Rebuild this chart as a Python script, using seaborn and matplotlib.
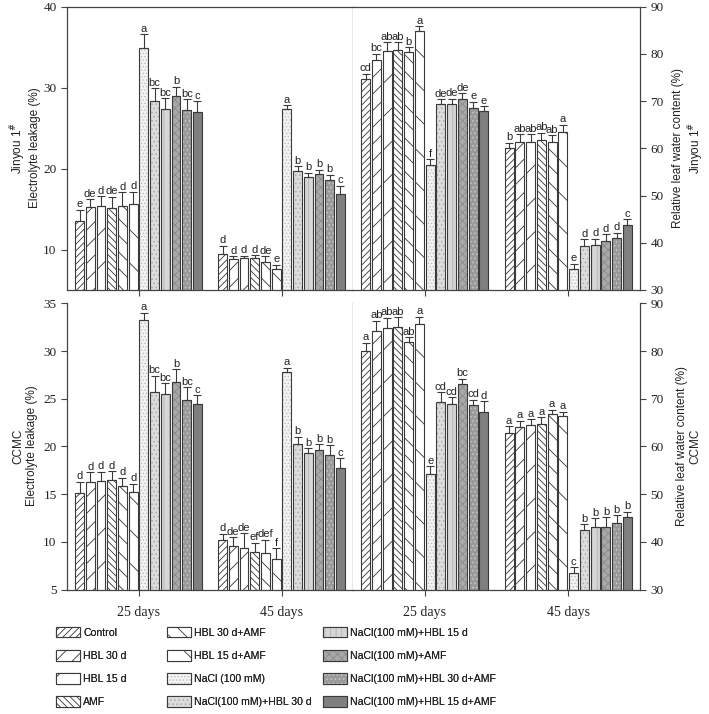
import numpy as np
import pandas as pd
import matplotlib
matplotlib.use("Agg")
import matplotlib.pyplot as plt
from matplotlib.patches import Patch, Rectangle
from matplotlib.container import BarContainer
import seaborn as sns

treatments = ["Control", "HBL 30 d", "HBL 15 d", "AMF", "HBL 30 d+AMF", "HBL 15 d+AMF",
              "NaCl (100 mM)", "NaCl(100 mM)+HBL 30 d", "NaCl(100 mM)+HBL 15 d",
              "NaCl(100 mM)+AMF", "NaCl(100 mM)+HBL 30 d+AMF", "NaCl(100 mM)+HBL 15 d+AMF"]
days = ["25 days", "45 days"]

# electrolyte leakage (%), Jinyou 1#
el_jin_25 = [13.5, 15.3, 15.4, 15.1, 15.4, 15.6, 34.9, 28.3, 27.4, 29.0, 27.2, 27.0]
el_jin_25_err = [1.4, 0.9, 1.2, 1.4, 1.7, 1.55, 1.7, 1.65, 1.3, 1.1, 1.35, 1.3]
el_jin_25_sig = ["e", "de", "d", "de", "d", "d", "a", "bc", "bc", "b", "bc", "c"]
el_jin_45 = [9.45, 8.8, 8.95, 9.0, 8.4, 7.6, 27.3, 19.7, 18.9, 19.3, 18.6, 16.8]
el_jin_45_err = [1.0, 0.4, 0.3, 0.3, 0.8, 0.5, 0.5, 0.6, 0.6, 0.55, 0.65, 1.1]
el_jin_45_sig = ["d", "d", "d", "d", "de", "e", "a", "b", "b", "b", "b", "c"]

# relative leaf water content (%), Jinyou 1#
rwc_jin_25 = [74.7, 78.7, 80.6, 80.9, 80.35, 84.8, 56.5, 69.4, 69.4, 70.35, 68.6, 68.0]
rwc_jin_25_err = [1.1, 1.35, 1.9, 1.6, 1.1, 1.05, 1.2, 1.05, 1.1, 1.35, 1.3, 0.9]
rwc_jin_25_sig = ["cd", "bc", "ab", "ab", "b", "a", "f", "de", "de", "de", "e", "e"]
rwc_jin_45 = [60.0, 61.4, 61.4, 61.8, 61.4, 63.5, 34.4, 39.4, 39.5, 40.3, 41.05, 43.7]
rwc_jin_45_err = [1.2, 1.55, 1.55, 1.55, 1.35, 1.55, 1.2, 1.4, 1.4, 1.5, 1.1, 1.3]
rwc_jin_45_sig = ["b", "ab", "ab", "ab", "ab", "a", "e", "d", "d", "d", "d", "c"]

# electrolyte leakage (%), CCMC
el_ccmc_25 = [15.1, 16.3, 16.35, 16.5, 15.9, 15.2, 33.2, 25.7, 25.45, 26.8, 24.85, 24.4]
el_ccmc_25_err = [1.2, 1.0, 1.0, 0.9, 0.8, 0.9, 0.8, 1.7, 1.2, 1.3, 1.35, 0.95]
el_ccmc_25_sig = ["d", "d", "d", "d", "d", "d", "a", "bc", "bc", "b", "bc", "c"]
el_ccmc_45 = [10.15, 9.6, 9.4, 8.9, 8.8, 8.2, 27.8, 20.3, 19.3, 19.6, 19.1, 17.75]
el_ccmc_45_err = [0.7, 0.9, 1.5, 1.0, 1.4, 1.1, 0.45, 0.7, 0.5, 0.6, 1.05, 1.0]
el_ccmc_45_sig = ["d", "de", "de", "ef", "def", "f", "a", "b", "b", "b", "b", "c"]

# relative leaf water content (%), CCMC
rwc_ccmc_25 = [80.0, 84.2, 84.9, 84.95, 81.85, 85.6, 54.3, 69.4, 68.95, 73.0, 68.6, 67.2]
rwc_ccmc_25_err = [1.7, 2.15, 2.1, 2.1, 1.1, 1.55, 1.6, 1.95, 1.4, 1.2, 1.2, 2.3]
rwc_ccmc_25_sig = ["a", "ab", "ab", "ab", "ab", "a", "e", "cd", "cd", "bc", "cd", "d"]
rwc_ccmc_45 = [62.8, 64.1, 64.4, 64.7, 66.7, 66.3, 33.4, 42.4, 43.1, 43.2, 44.0, 45.2]
rwc_ccmc_45_err = [1.4, 1.3, 1.25, 1.4, 1.0, 1.0, 1.3, 1.25, 1.8, 1.9, 1.6, 1.1]
rwc_ccmc_45_sig = ["a", "a", "a", "a", "a", "a", "c", "b", "b", "b", "b", "b"]

# bar looks: face colour, hatch, hatch colour
faces = ["white", "white", "white", "white", "white", "white",
         "#f3f3f3", "#dcdcdc", "#d6d6d6", "#a9a9a9", "#9a9a9a", "#7f7f7f"]
hatches = ["/////", "//", "/", "\\\\\\\\\\", "\\\\", "\\",
           ".....", "....", "|||", "xxxx", "....", ""]
hatch_cols = ["#333333"] * 6 + ["#bdbdbd", "#aaaaaa", "#b2b2b2", "#8a8a8a", "#c9c9c9", "#7f7f7f"]
EDGE = "#3a3a3a"
SANS = ["Liberation Sans", "DejaVu Sans"]

sns.set_style("ticks")
plt.rcParams["font.family"] = ["Liberation Serif", "DejaVu Serif"]
plt.rcParams["hatch.linewidth"] = 0.6
plt.rcParams["axes.edgecolor"] = "#444444"
plt.rcParams["axes.linewidth"] = 0.9


def make_df(v25, v45):
    return pd.DataFrame({
        "day": [days[0]] * 12 + [days[1]] * 12,
        "treatment": treatments * 2,
        "value": list(v25) + list(v45),
    })


def draw_panel(ax, v25, v45, e25, e45, s25, s45):
    df = make_df(v25, v45)
    sns.barplot(data=df, x="day", y="value", hue="treatment", order=days,
                hue_order=treatments, width=0.9, gap=0.17, errorbar=None,
                legend=False, palette=dict(zip(treatments, faces)), ax=ax)
    errs = [e25, e45]
    sigs = [s25, s45]
    bars = [c for c in ax.containers if isinstance(c, BarContainer)]
    for i, cont in enumerate(bars):
        for j, p in enumerate(cont.patches):
            p.set_facecolor(faces[i])
            p.set_hatch(hatches[i])
            p.set_edgecolor(hatch_cols[i])
            p.set_linewidth(0)
            ax.add_patch(Rectangle((p.get_x(), p.get_y()), p.get_width(), p.get_height(),
                                   fill=False, ec=EDGE, lw=0.8, zorder=p.get_zorder() + 0.1))
            xc = p.get_x() + p.get_width() / 2
            top = p.get_height()
            err = errs[j][i]
            ax.errorbar([xc], [top], yerr=[[0], [err]], fmt="none", ecolor=EDGE,
                        elinewidth=0.8, capsize=2.6, capthick=0.8, zorder=4)
            ax.annotate(sigs[j][i], (xc, top + err), xytext=(0, 0.3),
                        textcoords="offset points", ha="center", va="bottom",
                        fontsize=8, family=SANS, color="#222222")
    ax.set_xlim(-0.5, 1.5)
    ax.set_xlabel("")
    ax.set_ylabel("")
    ax.set_xticks([0, 1])
    ax.tick_params(axis="both", direction="out", length=4, width=0.8,
                   color="#444444", labelcolor="#222222")
    ax.tick_params(axis="y", labelsize=9.5)
    ax.tick_params(axis="x", labelsize=10)


W, H = 709, 714
fig = plt.figure(figsize=(W / 100, H / 100), dpi=100)

top_b, top_h = (H - 290) / H, 283.3 / H
bot_b, bot_h = (H - 589.5) / H, 286.2 / H
left_l, left_w = 67 / W, 286 / W
right_l, right_w = 353 / W, 287 / W

ax_tl = fig.add_axes([left_l, top_b, left_w, top_h])
ax_tr = fig.add_axes([right_l, top_b, right_w, top_h])
ax_bl = fig.add_axes([left_l, bot_b, left_w, bot_h])
ax_br = fig.add_axes([right_l, bot_b, right_w, bot_h])

draw_panel(ax_tl, el_jin_25, el_jin_45, el_jin_25_err, el_jin_45_err, el_jin_25_sig, el_jin_45_sig)
draw_panel(ax_tr, rwc_jin_25, rwc_jin_45, rwc_jin_25_err, rwc_jin_45_err, rwc_jin_25_sig, rwc_jin_45_sig)
draw_panel(ax_bl, el_ccmc_25, el_ccmc_45, el_ccmc_25_err, el_ccmc_45_err, el_ccmc_25_sig, el_ccmc_45_sig)
draw_panel(ax_br, rwc_ccmc_25, rwc_ccmc_45, rwc_ccmc_25_err, rwc_ccmc_45_err, rwc_ccmc_25_sig, rwc_ccmc_45_sig)

ax_tl.set_ylim(5, 40)
ax_tl.set_yticks([10, 20, 30, 40])
ax_bl.set_ylim(5, 35)
ax_bl.set_yticks([5, 10, 15, 20, 25, 30, 35])
for ax in (ax_tr, ax_br):
    ax.set_ylim(30, 90)
    ax.set_yticks([30, 40, 50, 60, 70, 80, 90])
    ax.yaxis.tick_right()
    ax.spines["left"].set_visible(False)

for ax in (ax_tl, ax_tr):
    ax.set_xticklabels([])
for ax in (ax_bl, ax_br):
    ax.spines["top"].set_visible(False)
    ax.tick_params(axis="x", pad=8)

# side labels
lab = dict(rotation=90, ha="center", va="center", multialignment="center",
           fontsize=8.5, family=SANS, linespacing=1.15, color="#222222")
fig.text(25 / W, 1 - 148 / H, "Jinyou 1$^{\\#}$\nElectrolyte leakage (%)", **lab)
fig.text(25 / W, 1 - 446 / H, "CCMC\nElectrolyte leakage (%)", **lab)
fig.text(689 / W, 1 - 148 / H, "Relative leaf water content (%)\nJinyou 1$^{\\#}$", **lab)
fig.text(689 / W, 1 - 446 / H, "Relative leaf water content (%)\nCCMC", **lab)


# legend in three columns
def handle(i):
    fill = Patch(facecolor=faces[i], hatch=hatches[i], edgecolor=hatch_cols[i], lw=0)
    edge = Patch(fill=False, edgecolor=EDGE, lw=0.8)
    return (fill, edge)


col_x = [56, 167, 323]
for c in range(3):
    idx = list(range(c * 4, c * 4 + 4))
    leg = fig.legend([handle(i) for i in idx], [treatments[i] for i in idx],
                     loc="upper left", bbox_to_anchor=(col_x[c] / W, 1 - 627 / H),
                     frameon=False, borderpad=0, borderaxespad=0, handlelength=2.3,
                     handleheight=1.15, handletextpad=0.3, labelspacing=1.17,
                     prop={"family": SANS, "size": 7.6})
    for t in leg.get_texts():
        t.set_color("#222222")
    fig.add_artist(leg)

fig.savefig("out.png", dpi=100)
